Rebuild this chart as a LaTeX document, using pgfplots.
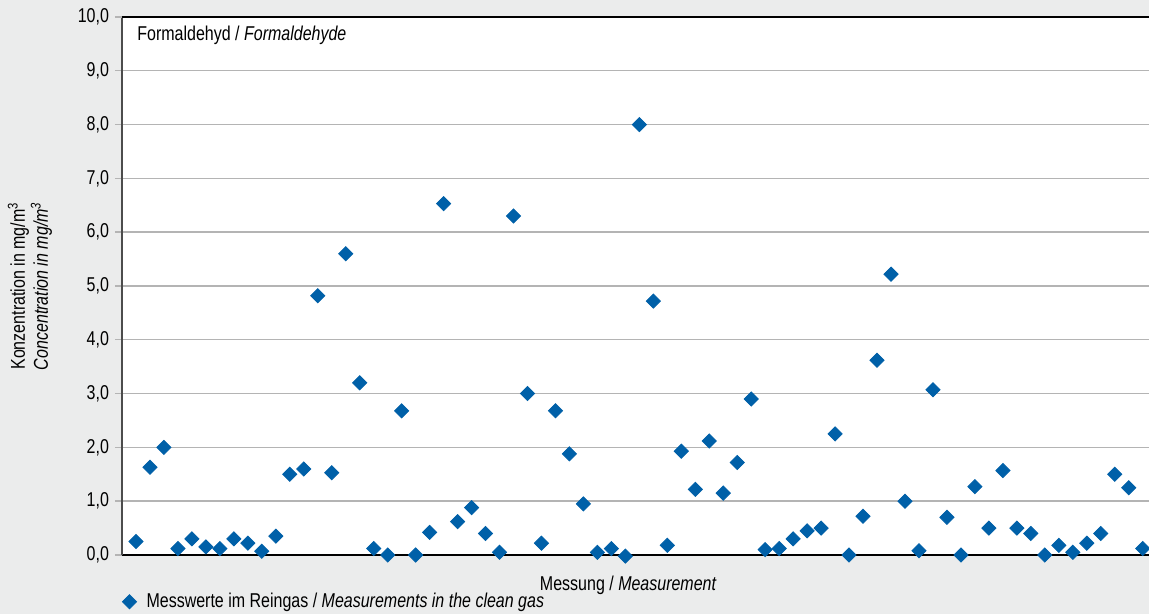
\documentclass[border=0pt]{standalone}
\usepackage{pgfplots}
\pgfplotsset{compat=1.18}
\usepackage{fontspec}
\setmainfont[FakeStretch=0.8]{Liberation Sans}

\definecolor{bggrey}{RGB}{235,236,236}
\definecolor{gridgrey}{RGB}{180,180,180}
\definecolor{pointblue}{RGB}{0,96,168}

\begin{document}
\begin{tikzpicture}
  % page background (whole picture)
  \fill[bggrey] (-61pt,-29.5pt) rectangle (513.5pt,277.5pt);
  \useasboundingbox (-61pt,-29.5pt) rectangle (513.5pt,277.5pt);
  \begin{axis}[
      at={(0,0)}, anchor=south west,
      scale only axis,
      width=513.5pt, height=269pt,
      axis background/.style={fill=white},
      xmin=0, xmax=73.45,
      ymin=0, ymax=10,
      xtick=\empty,
      ytick={0,1,...,9},
      extra y ticks={10},
      extra y tick style={grid style={black, line width=0.8pt}},
      ymajorgrids,
      grid style={gridgrey, line width=0.7pt},
      axis x line*=bottom, axis y line*=left,
      x axis line style={-, black, line width=0.8pt},
      y axis line style={-, black!70, line width=1pt},
      tick align=outside, major tick length=3.5pt,
      ytick style={gridgrey, line width=0.7pt},
      /pgf/number format/.cd, fixed, fixed zerofill, precision=1, use comma,
        assume math mode=true, 1000 sep={},
      /pgfplots/.cd,
      yticklabel style={font=\fontsize{10}{12}\selectfont, xshift=0.5pt},
      xlabel={Messung / \textit{Measurement}},
      xlabel style={font=\fontsize{10}{12}\selectfont, at={(axis description cs:0.493,0)}, anchor=north, yshift=-7pt},
      ylabel={Konzentration in mg/m\textsuperscript{3}\\\textit{Concentration in mg/m\textsuperscript{3}}},
      ylabel style={font=\fontsize{10}{11.5}\selectfont, align=center, at={(axis description cs:0,0.5)}, anchor=center, yshift=46pt},
      legend style={at={(0,-0.087)}, anchor=west, draw=none, fill=none,
        font=\fontsize{10}{12}\selectfont, inner sep=0pt},
      legend cell align=left,
      clip=false,
    ]
    \addplot[only marks, mark=square*, mark size=2.5pt, color=pointblue,
      mark options={rotate=45, fill=pointblue, draw=pointblue}] coordinates {
      (1,0.25) (2,1.63) (3,2.0) (4,0.12) (5,0.3) (6,0.15) (7,0.12) (8,0.3)
      (9,0.22) (10,0.07) (11,0.35) (12,1.5) (13,1.6) (14,4.82) (15,1.53)
      (16,5.6) (17,3.2) (18,0.12) (19,0.0) (20,2.68) (21,0.0) (22,0.42)
      (23,6.53) (24,0.62) (25,0.88) (26,0.4) (27,0.05) (28,6.3) (29,3.0)
      (30,0.22) (31,2.68) (32,1.88) (33,0.95) (34,0.05) (35,0.12) (36,-0.02)
      (37,8.0) (38,4.72) (39,0.18) (40,1.93) (41,1.22) (42,2.12) (43,1.15)
      (44,1.72) (45,2.9) (46,0.1) (47,0.12) (48,0.3) (49,0.45) (50,0.5)
      (51,2.25) (52,0.0) (53,0.72) (54,3.62) (55,5.22) (56,1.0) (57,0.08)
      (58,3.07) (59,0.7) (60,0.0) (61,1.27) (62,0.5) (63,1.57) (64,0.5)
      (65,0.4) (66,0.0) (67,0.18) (68,0.05) (69,0.22) (70,0.4) (71,1.5)
      (72,1.25) (73,0.12)
    };
    \addlegendentry{\hspace{3pt}Messwerte im Reingas / \textit{Measurements in the clean gas}}
    \node[anchor=north west, inner sep=0pt, font=\fontsize{10}{12}\selectfont]
      at (rel axis cs:0,1) [xshift=7.5pt, yshift=-4.5pt] {Formaldehyd / \textit{Formaldehyde}};
  \end{axis}
\end{tikzpicture}
\end{document}
